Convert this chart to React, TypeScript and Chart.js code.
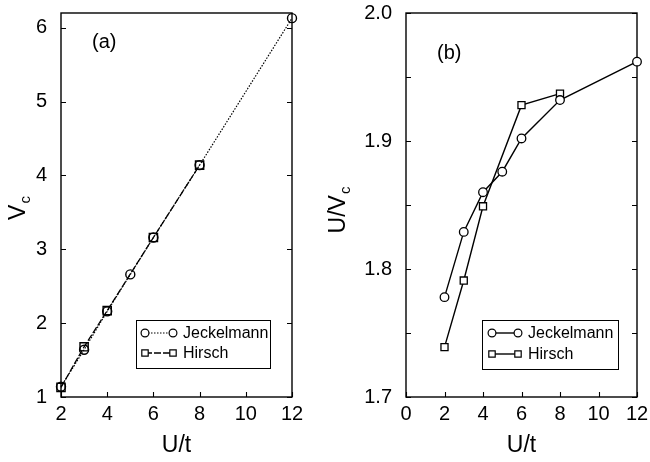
import React, { useEffect, useRef } from 'react';
import { Chart, registerables } from 'chart.js';

Chart.register(...registerables);

const FONT = '"Liberation Sans", Arial, Helvetica, sans-serif';

// ---- data ----
const seriesNames = ['Jeckelmann', 'Hirsch'];
const uJeckelmann = [2, 3, 4, 5, 6, 8, 12];
const uHirsch = [2, 3, 4, 6, 8];
// panel (a): V_c
const vcJeckelmann = [1.14, 1.64, 2.16, 2.66, 3.16, 4.14, 6.13];
const vcHirsch = [1.13, 1.68, 2.17, 3.16, 4.14];
// panel (b): U / V_c
const ratioJeckelmann = [1.778, 1.829, 1.86, 1.876, 1.902, 1.932, 1.962];
const ratioHirsch = [1.739, 1.791, 1.849, 1.928, 1.937];
// axes
const axisA = { xMin: 2, xMax: 12, xStep: 2, yMin: 1, yMax: 6.2, yStep: 1 };
const axisB = { xMin: 0, xMax: 12, xStep: 2, yMin: 1.7, yMax: 2.0, yStep: 0.05 };

const toPts = (xs: number[], ys: number[]) => xs.map((x, i) => ({ x, y: ys[i] }));

const framePlugin = {
  id: 'frame',
  afterDraw(chart: any, _args: any, opts: any) {
    const { ctx, chartArea: a, scales } = chart;
    ctx.save();
    ctx.strokeStyle = '#000';
    ctx.fillStyle = '#000';
    // inward ticks
    ctx.lineWidth = 1.1;
    const tl = 5;
    scales.x.ticks.forEach((t: any) => {
      const p = Math.round(scales.x.getPixelForValue(t.value)) + 0.5;
      ctx.beginPath();
      ctx.moveTo(p, a.bottom);
      ctx.lineTo(p, a.bottom - tl);
      ctx.stroke();
    });
    scales.y.ticks.forEach((t: any) => {
      const p = Math.round(scales.y.getPixelForValue(t.value)) + 0.5;
      ctx.beginPath();
      ctx.moveTo(a.left, p);
      ctx.lineTo(a.left + tl, p);
      ctx.moveTo(a.right, p);
      ctx.lineTo(a.right - tl, p);
      ctx.stroke();
    });

    // panel tag
    ctx.font = `20px ${FONT}`;
    ctx.textAlign = 'left';
    ctx.textBaseline = 'alphabetic';
    ctx.fillText(opts.tag, opts.tagX, opts.tagY);

    // x title
    ctx.font = `23px ${FONT}`;
    ctx.textAlign = 'center';
    ctx.fillText('U/t', (a.left + a.right) / 2, opts.xTitleY);

    // y title with subscript, rotated
    ctx.save();
    ctx.translate(opts.yTitleX, (a.top + a.bottom) / 2 + opts.yTitleDy);
    ctx.rotate(-Math.PI / 2);
    ctx.textAlign = 'left';
    ctx.font = `23px ${FONT}`;
    const wMain = ctx.measureText(opts.yMain).width;
    ctx.font = `15px ${FONT}`;
    const wSub = ctx.measureText(opts.ySub).width;
    const x0 = -(wMain + wSub + 1) / 2;
    ctx.font = `23px ${FONT}`;
    ctx.fillText(opts.yMain, x0, 0);
    ctx.font = `15px ${FONT}`;
    ctx.fillText(opts.ySub, x0 + wMain + 1, 5);
    ctx.restore();

    // legend
    const L = opts.legend;
    ctx.fillStyle = '#fff';
    ctx.fillRect(L.x, L.y, L.w, L.h);
    ctx.strokeStyle = '#000';
    ctx.lineWidth = 1;
    ctx.strokeRect(L.x + 0.5, L.y + 0.5, L.w, L.h);
    chart.data.datasets.forEach((ds: any, i: number) => {
      const ry = L.rows[i];
      ctx.save();
      ctx.lineWidth = ds.borderWidth;
      ctx.setLineDash(ds.borderDash || []);
      ctx.beginPath();
      ctx.moveTo(L.m1, ry);
      ctx.lineTo(L.m2, ry);
      ctx.stroke();
      ctx.restore();
      ctx.lineWidth = 1.2;
      [L.m1, L.m2].forEach((mx: number) => {
        ctx.beginPath();
        if (ds.pointStyle === 'rect') {
          ctx.rect(mx - 3.2, ry - 3.2, 6.4, 6.4);
        } else {
          ctx.arc(mx, ry, 3.9, 0, Math.PI * 2);
        }
        ctx.fillStyle = '#fff';
        ctx.fill();
        ctx.stroke();
      });
      ctx.fillStyle = '#000';
      ctx.font = `16px ${FONT}`;
      ctx.textAlign = 'left';
      ctx.textBaseline = 'middle';
      ctx.fillText(ds.label, L.tx, ry + 1);
      ctx.textBaseline = 'alphabetic';
    });
    ctx.restore();
  },
};

// frame drawn before datasets so markers on the edges sit on top of it
const borderPlugin = {
  id: 'borderBox',
  beforeDatasetsDraw(chart: any) {
    const { ctx, chartArea: a } = chart;
    ctx.save();
    ctx.strokeStyle = '#000';
    ctx.lineWidth = 1.4;
    ctx.strokeRect(a.left, a.top, a.right - a.left, a.bottom - a.top);
    ctx.restore();
  },
};

function makeConfig(panel: any): any {
  const ax = panel.axis;
  return {
    type: 'scatter',
    data: { datasets: panel.datasets },
    options: {
      animation: false,
      responsive: false,
      devicePixelRatio: 1,
      layout: { padding: { left: 0, top: 13, right: panel.padRight, bottom: 0 } },
      plugins: {
        legend: { display: false },
        tooltip: { enabled: false },
        frame: panel.frame,
      },
      scales: {
        x: {
          type: 'linear',
          min: ax.xMin,
          max: ax.xMax,
          grid: { display: false, drawTicks: false },
          border: { display: false },
          ticks: {
            stepSize: ax.xStep,
            includeBounds: false,
            autoSkip: false,
            maxRotation: 0,
            color: '#000',
            padding: 5,
            font: { family: FONT, size: 20 },
          },
          afterFit: (s: any) => {
            s.height = 65;
            s.paddingLeft = 0;
            s.paddingRight = 0;
          },
        },
        y: {
          type: 'linear',
          min: ax.yMin,
          max: ax.yMax,
          grid: { display: false, drawTicks: false },
          border: { display: false },
          ticks: {
            stepSize: ax.yStep,
            includeBounds: false,
            autoSkip: false,
            color: '#000',
            padding: 14,
            font: { family: FONT, size: 20 },
            callback: panel.yLabel,
          },
          afterFit: (s: any) => {
            s.width = panel.yWidth;
            s.paddingTop = 0;
            s.paddingBottom = 0;
          },
        },
      },
    },
    plugins: [borderPlugin, framePlugin],
  };
}

const panels = [
  {
    axis: axisA,
    padRight: 33,
    yWidth: 61,
    yLabel: (v: number) => String(Math.round(v)),
    datasets: [
      {
        label: seriesNames[0],
        data: toPts(uJeckelmann, vcJeckelmann),
        showLine: true,
        clip: false,
        borderColor: '#000',
        borderWidth: 1.2,
        borderDash: [1.5, 1.5],
        pointStyle: 'circle',
        pointRadius: 4.5,
        pointBorderWidth: 1.4,
        pointBorderColor: '#000',
        pointBackgroundColor: 'rgba(255,255,255,0)',
      },
      {
        label: seriesNames[1],
        data: toPts(uHirsch, vcHirsch),
        showLine: true,
        clip: false,
        borderColor: '#000',
        borderWidth: 1.3,
        borderDash: [7, 2],
        pointStyle: 'rect',
        pointRadius: 5.8,
        pointBorderWidth: 1.4,
        pointBorderColor: '#000',
        pointBackgroundColor: 'rgba(255,255,255,0)',
      },
    ],
    frame: {
      tag: '(a)',
      tagX: 92,
      tagY: 48,
      xTitleY: 452,
      yTitleX: 25,
      yTitleDy: 3,
      yMain: 'V',
      ySub: 'c',
      legend: { x: 136, y: 320, w: 134, h: 48, rows: [333, 353], m1: 145, m2: 173, tx: 183 },
    },
  },
  {
    axis: axisB,
    padRight: 13,
    yWidth: 81,
    yLabel: (v: number) => (Math.abs(v * 10 - Math.round(v * 10)) < 1e-6 ? v.toFixed(1) : ''),
    datasets: [
      {
        label: seriesNames[0],
        data: toPts(uJeckelmann, ratioJeckelmann),
        showLine: true,
        clip: false,
        borderColor: '#000',
        borderWidth: 1.4,
        pointStyle: 'circle',
        pointRadius: 4.3,
        pointBorderWidth: 1.3,
        pointBorderColor: '#000',
        pointBackgroundColor: '#fff',
      },
      {
        label: seriesNames[1],
        data: toPts(uHirsch, ratioHirsch),
        showLine: true,
        clip: false,
        borderColor: '#000',
        borderWidth: 1.4,
        pointStyle: 'rect',
        pointRadius: 5,
        pointBorderWidth: 1.3,
        pointBorderColor: '#000',
        pointBackgroundColor: '#fff',
      },
    ],
    frame: {
      tag: '(b)',
      tagX: 112,
      tagY: 59,
      xTitleY: 452,
      yTitleX: 20,
      yTitleDy: 5,
      yMain: 'U/V',
      ySub: 'c',
      legend: { x: 157, y: 320, w: 136, h: 49, rows: [333, 354], m1: 167, m2: 193, tx: 203 },
    },
  },
];

function Panel({ cfg }: { cfg: any }) {
  const ref = useRef<HTMLCanvasElement | null>(null);
  useEffect(() => {
    if (!ref.current) return;
    const chart = new Chart(ref.current, makeConfig(cfg));
    return () => chart.destroy();
  }, [cfg]);
  return <canvas ref={ref} width={325} height={462} style={{ display: 'block', width: 325, height: 462 }} />;
}

export default function App() {
  return (
    <div
      style={{
        position: 'absolute',
        left: 0,
        top: 0,
        width: 650,
        height: 462,
        display: 'flex',
        background: '#fff',
        overflow: 'hidden',
      }}
    >
      {panels.map((p, i) => (
        <Panel key={i} cfg={p} />
      ))}
    </div>
  );
}
